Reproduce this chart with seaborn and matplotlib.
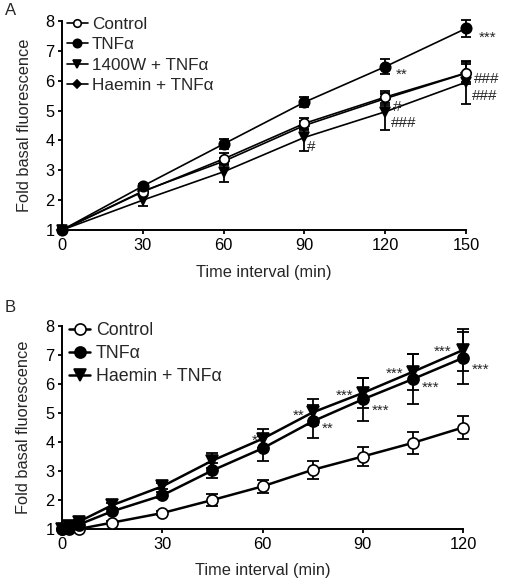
import matplotlib
matplotlib.use("Agg")
import matplotlib.pyplot as plt
import seaborn as sns
import pandas as pd

# ---------------- data ----------------
A_time = [0, 30, 60, 90, 120, 150]
A_control = [1.0, 2.28, 3.38, 4.57, 5.45, 6.26]
A_control_err = [0, 0.10, 0.20, 0.18, 0.20, 0.36]
A_tnf = [1.0, 2.47, 3.88, 5.28, 6.47, 7.75]
A_tnf_err = [0, 0.07, 0.17, 0.17, 0.25, 0.27]
A_1400w = [1.0, 2.0, 2.95, 4.10, 4.96, 5.95]
A_1400w_err = [0, 0.18, 0.33, 0.45, 0.60, 0.72]
A_haemin = [1.0, 2.30, 3.30, 4.50, 5.40, 6.25]
A_haemin_err = [0, 0.05, 0.10, 0.15, 0.20, 0.30]

B_time = [0, 2, 5, 15, 30, 45, 60, 75, 90, 105, 120]
B_control = [1.0, 1.0, 1.0, 1.22, 1.55, 2.0, 2.47, 3.04, 3.5, 3.97, 4.5]
B_control_err = [0, 0, 0.03, 0.05, 0.07, 0.2, 0.23, 0.3, 0.33, 0.37, 0.41]
B_tnf = [1.0, 1.05, 1.15, 1.61, 2.16, 3.02, 3.78, 4.71, 5.47, 6.17, 6.9]
B_tnf_err = [0, 0.03, 0.05, 0.08, 0.1, 0.27, 0.42, 0.58, 0.75, 0.85, 0.9]
B_haemin = [1.0, 1.1, 1.25, 1.82, 2.47, 3.36, 4.11, 5.02, 5.69, 6.42, 7.17]
B_haemin_err = [0, 0.03, 0.05, 0.08, 0.1, 0.27, 0.33, 0.45, 0.52, 0.62, 0.72]

A_labels = ["Control", "TNF\u03b1", "1400W + TNF\u03b1", "Haemin + TNF\u03b1"]
B_labels = ["Control", "TNF\u03b1", "Haemin + TNF\u03b1"]
x_ticks_A = [0, 30, 60, 90, 120, 150]
x_ticks_B = [0, 30, 60, 90, 120]
y_ticks = [1, 2, 3, 4, 5, 6, 7, 8]

# ---------------- style ----------------
sns.set_style("ticks")
plt.rcParams["font.family"] = ["Liberation Sans", "DejaVu Sans"]
FS = 11.8

fig = plt.figure(figsize=(5.05, 5.81), dpi=100)
axA = fig.add_axes([62 / 505, 1 - 230 / 581, 404 / 505, 209 / 581])
axB = fig.add_axes([62 / 505, 1 - 529 / 581, 401 / 505, 203 / 581])


def draw_series(ax, t, y, e, label, marker, ms, mfc, lw, capsize):
    df = pd.DataFrame({"t": t, "y": y})
    sns.lineplot(data=df, x="t", y="y", ax=ax, color="black", lw=lw,
                 marker=marker, markersize=ms, markerfacecolor=mfc,
                 markeredgecolor="black", markeredgewidth=1.2,
                 label=label, clip_on=False, zorder=3)
    ax.errorbar(t, y, yerr=e, fmt="none", ecolor="black", elinewidth=1.3,
                capsize=capsize, capthick=1.3, clip_on=False, zorder=2)


def style_axes(ax, xticks, xmax):
    ax.set_xlim(0, xmax)
    ax.set_ylim(1, 8)
    ax.set_xticks(xticks)
    ax.set_yticks(y_ticks)
    for s in ["top", "right"]:
        ax.spines[s].set_visible(False)
    for s in ["left", "bottom"]:
        ax.spines[s].set_linewidth(1.4)
        ax.spines[s].set_color("black")
    ax.tick_params(axis="both", direction="out", length=3, width=1.3,
                   colors="black", labelsize=FS, pad=2.5)
    ax.set_xlabel("Time interval (min)", fontsize=FS, va="center")
    ax.set_ylabel("Fold basal fluorescence", fontsize=FS, va="center")


# ---------------- Panel A ----------------
draw_series(axA, A_time, A_1400w, A_1400w_err, A_labels[2], "v", 7.5, "black", 1.2, 3.8)
draw_series(axA, A_time, A_haemin, A_haemin_err, A_labels[3], "D", 5, "black", 1.2, 3.8)
draw_series(axA, A_time, A_control, A_control_err, A_labels[0], "o", 6.8, "white", 1.2, 3.8)
draw_series(axA, A_time, A_tnf, A_tnf_err, A_labels[1], "o", 7.5, "black", 1.2, 3.8)
style_axes(axA, x_ticks_A, 150)
axA.xaxis.set_label_coords(0.5, -0.205)
axA.yaxis.set_label_coords(-0.092, 0.5)

h, l = axA.get_legend_handles_labels()
order = [l.index(s) for s in A_labels]
axA.legend([h[i] for i in order], [l[i] for i in order], loc="upper left",
           bbox_to_anchor=(67 / 505, 1 - 17 / 581), bbox_transform=fig.transFigure,
           frameon=False, fontsize=12.3, handlelength=1.2, handletextpad=0.25,
           labelspacing=0.32, borderpad=0, borderaxespad=0, markerscale=0.8)

for txt, x, y in [("***", 158.0, 7.45), ("**", 126.0, 6.2), ("###", 157.5, 6.05),
                  ("###", 157.0, 5.5), ("#", 124.5, 5.12), ("###", 127.0, 4.58),
                  ("#", 92.7, 3.78)]:
    axA.text(x, y, txt, fontsize=11, ha="center", va="center", clip_on=False)

# ---------------- Panel B ----------------
draw_series(axB, B_time, B_control, B_control_err, B_labels[0], "o", 8, "white", 1.8, 4.5)
draw_series(axB, B_time, B_tnf, B_tnf_err, B_labels[1], "o", 8, "black", 1.8, 4.5)
draw_series(axB, B_time, B_haemin, B_haemin_err, B_labels[2], "v", 8.5, "black", 1.8, 4.5)
style_axes(axB, x_ticks_B, 120)
axB.xaxis.set_label_coords(0.5, -0.205)
axB.yaxis.set_label_coords(-0.097, 0.5)

axB.legend(loc="upper left", bbox_to_anchor=(69 / 505, 1 - 322 / 581),
           bbox_transform=fig.transFigure, frameon=False, fontsize=12.8,
           handlelength=1.2, handletextpad=0.3, labelspacing=0.33,
           borderpad=0, borderaxespad=0)

for txt, x, y in [("*", 57.8, 4.05), ("**", 70.9, 4.9), ("**", 79.6, 4.45),
                  ("***", 84.7, 5.6), ("***", 95.2, 5.07), ("***", 99.6, 6.35),
                  ("***", 110.4, 5.87), ("***", 114.0, 7.1), ("***", 125.4, 6.5)]:
    axB.text(x, y, txt, fontsize=11, ha="center", va="center", clip_on=False)

fig.text(5 / 505, 1 - 3 / 581, "A", fontsize=12, ha="left", va="top")
fig.text(5 / 505, 1 - 300 / 581, "B", fontsize=12, ha="left", va="top")

fig.savefig("out.png", dpi=100)
